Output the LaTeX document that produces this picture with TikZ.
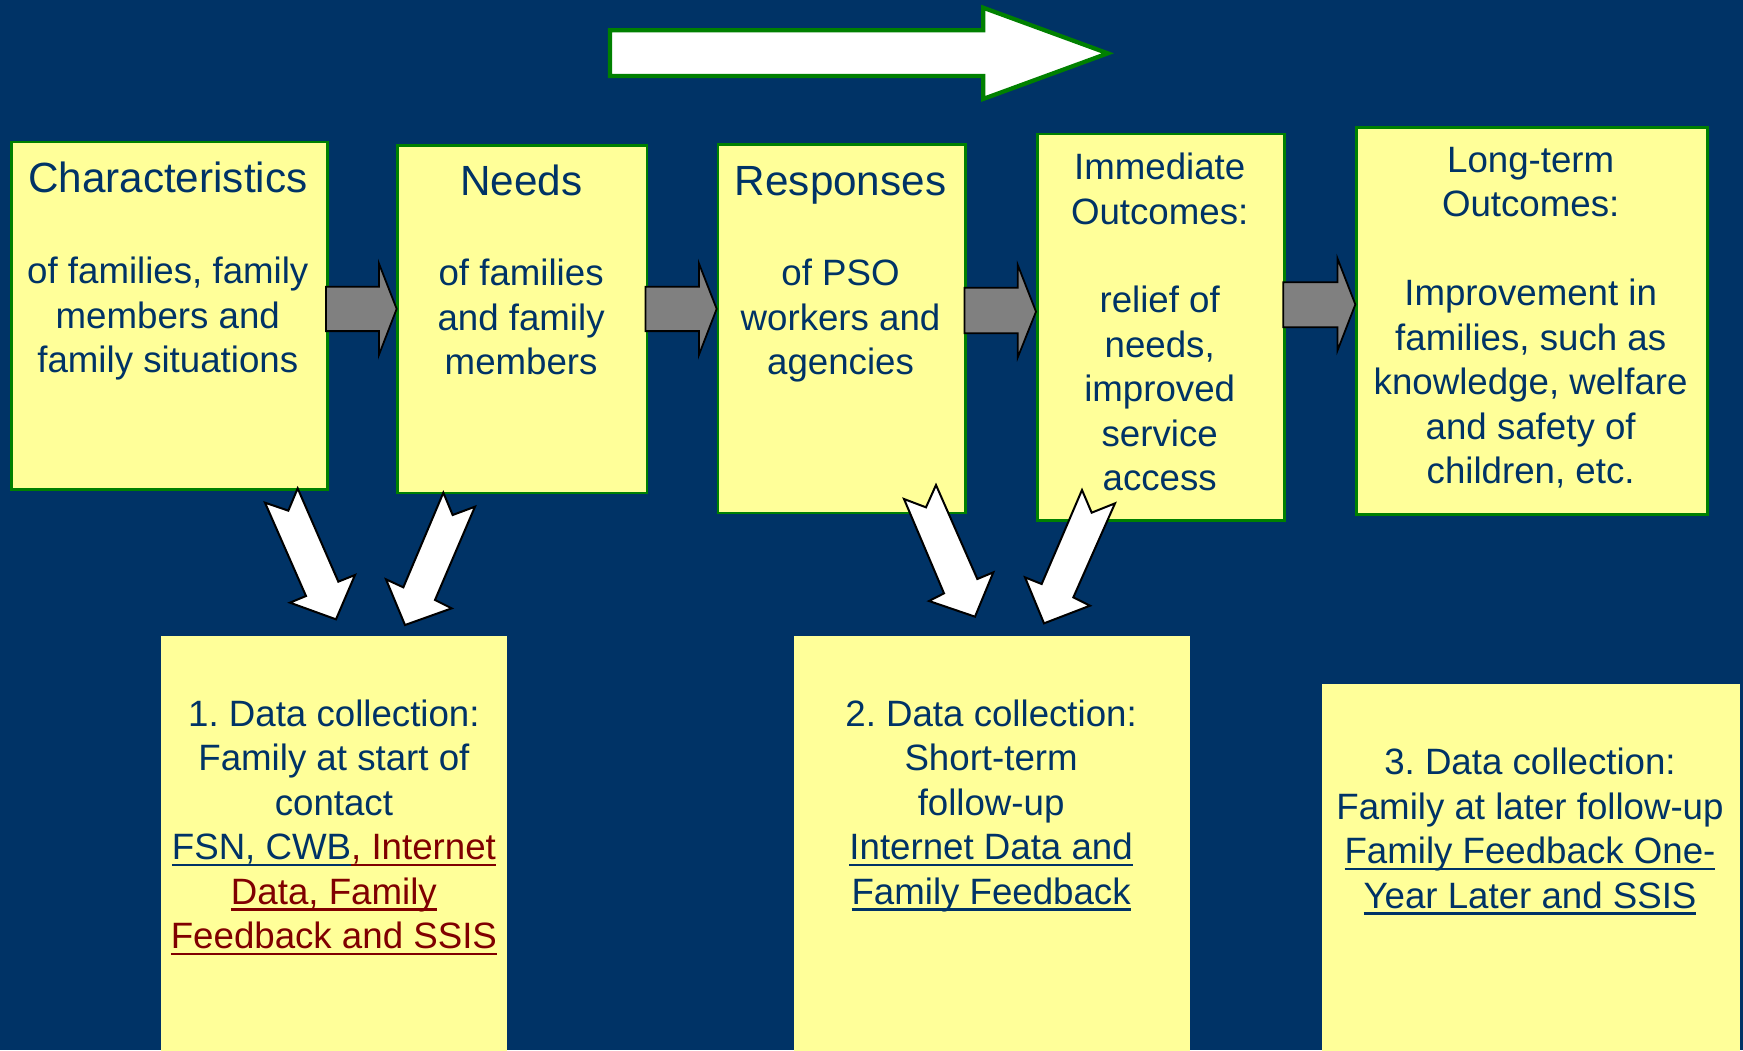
\documentclass[tikz,border=0pt]{standalone}
\usepackage{fontspec}
\setmainfont{Liberation Sans}
\frenchspacing
\definecolor{bg}{RGB}{0,51,102}
\definecolor{tc}{RGB}{0,51,102}
\definecolor{ylw}{RGB}{255,255,153}
\definecolor{grn}{RGB}{0,128,0}
\definecolor{dred}{RGB}{128,0,0}
\definecolor{gry}{RGB}{128,128,128}
\newsavebox\ulbox
\newcommand\ulin[1]{\sbox\ulbox{#1}\rlap{\rule[-6pt]{\wd\ulbox}{2.3pt}}\usebox\ulbox}
\tikzset{
  topbox/.style={draw=grn, line width=2.5pt, fill=ylw, anchor=north west, inner sep=0pt},
  botbox/.style={fill=ylw, anchor=north west, inner sep=0pt},
  head/.style={font=\fontsize{38}{45}\selectfont, text=tc, anchor=base, inner sep=0pt},
  txt/.style={font=\fontsize{33}{40}\selectfont, text=tc, align=center, anchor=north, inner sep=0pt},
  grayarrow/.style={fill=gry, draw=black, line width=1.6pt, line join=miter},
  whitearrow/.style={fill=white, draw=black, line width=1.8pt, line join=miter},
  bigarrow/.style={fill=white, draw=grn, line width=3.8pt, line join=miter}
}
\begin{document}
\begin{tikzpicture}[x=1pt,y=-1pt]
\fill[bg] (0,0) rectangle (1568.7,945);
\useasboundingbox (0,0) rectangle (1568.7,945);

% top big arrow
\draw[bigarrow] (549,27.3) -- (885,27.3) -- (885,7) -- (997,48) -- (885,89) -- (885,68.4) -- (549,68.4) -- cycle;

% top boxes
\node[topbox, minimum width=284.5pt, minimum height=312.9pt] (b1) at (8.8,126.6) {};
\node[topbox, minimum width=224.2pt, minimum height=312.9pt] (b2) at (356.8,129.6) {};
\node[topbox, minimum width=223pt, minimum height=331.5pt] (b3) at (645,129) {};
\node[topbox, minimum width=222.6pt, minimum height=347.6pt] (b4) at (932.4,119.4) {};
\node[topbox, minimum width=315.6pt, minimum height=348.6pt] (b5) at (1219.8,113.4) {};

% bottom boxes
\node[botbox, minimum width=311pt, minimum height=380pt] (c1) at (145,572) {};
\node[botbox, minimum width=356.4pt, minimum height=380pt] (c2) at (714.6,572.4) {};
\node[botbox, minimum width=375.6pt, minimum height=340pt] (c3) at (1189.8,615.6) {};

% texts top
\node[head] (h1) at (151,173.4) {Characteristics};
\node[txt] (t1) at (151,227) {\strut of families, family\\\strut members and\\\strut family situations};
\node[head] (h2) at (469,175.5) {Needs};
\node[txt] (t2) at (469,229) {\strut of families\\\strut and family\\\strut members};
\node[head] (h3) at (756.5,175.5) {Responses};
\node[txt] (t3) at (756.5,229) {\strut of PSO\\\strut workers and\\\strut agencies};
\node[txt] (t4) at (1043.7,133.4) {\strut Immediate\\\strut Outcomes:\\\strut\\\strut relief of\\\strut needs,\\\strut improved\\\strut service\\\strut access};
\node[txt] (t5) at (1377.6,127) {\strut Long-term\\\strut Outcomes:\\\strut\\\strut Improvement in\\\strut families, such as\\\strut knowledge, welfare\\\strut and safety of\\\strut children, etc.};

% texts bottom
\node[txt] (d1) at (300.5,625.5) {\strut 1. Data collection:\\\strut Family at start of\\\strut contact\\\strut\ulin{FSN, CWB}{\color{dred}\ulin{, Internet}}\\\strut{\color{dred}\ulin{Data, Family}}\\\strut{\color{dred}\ulin{Feedback and SSIS}}};
\node[txt] (d2) at (892,625.5) {\strut 2. Data collection:\\\strut Short-term\\\strut follow-up\\\strut\ulin{Internet Data and}\\\strut\ulin{Family Feedback}};
\node[txt] (d3) at (1377,669) {\strut 3. Data collection:\\\strut Family at later follow-up\\\strut\ulin{Family Feedback One-}\\\strut\ulin{Year Later and SSIS}};

% gray arrows
\draw[grayarrow] (293.3,258) -- (341,258) -- (341,237) -- (357,278) -- (341,319.5) -- (341,298) -- (293.3,298) -- cycle;
\draw[grayarrow] (581,258) -- (629,258) -- (629,237) -- (645,278) -- (629,319.5) -- (629,298) -- (581,298) -- cycle;
\draw[grayarrow] (868,259) -- (916,259) -- (916,238.5) -- (932.4,280.5) -- (916,321.6) -- (916,300) -- (868,300) -- cycle;
\draw[grayarrow] (1155,254) -- (1203.7,254) -- (1203.7,232.5) -- (1219.8,274) -- (1203.7,315.6) -- (1203.7,294.6) -- (1155,294.6) -- cycle;

% white arrows
\draw[whitearrow] (267.9,439.5) -- (259.5,459.6) -- (238.5,452.4) -- (275.4,536.4) -- (261,542.4) -- (302.4,557.4) -- (319.5,517.5) -- (304.5,523.5) -- cycle;
\draw[whitearrow] (399,443.4) -- (407.4,463.5) -- (427.5,456) -- (391.5,540) -- (406.5,547.5) -- (364.5,562.5) -- (347.4,521.4) -- (363,528.6) -- cycle;
\draw[whitearrow] (842.4,436.5) -- (833.4,456.6) -- (813.6,449.1) -- (849.6,534) -- (836.1,540.9) -- (877.5,555) -- (894,515.1) -- (879.6,521.1) -- cycle;
\draw[whitearrow] (973.8,441) -- (982.5,461.4) -- (1003.5,453) -- (966,537.6) -- (981,545.1) -- (939.6,561) -- (922.5,519.6) -- (937.5,525.6) -- cycle;
\end{tikzpicture}
\end{document}
